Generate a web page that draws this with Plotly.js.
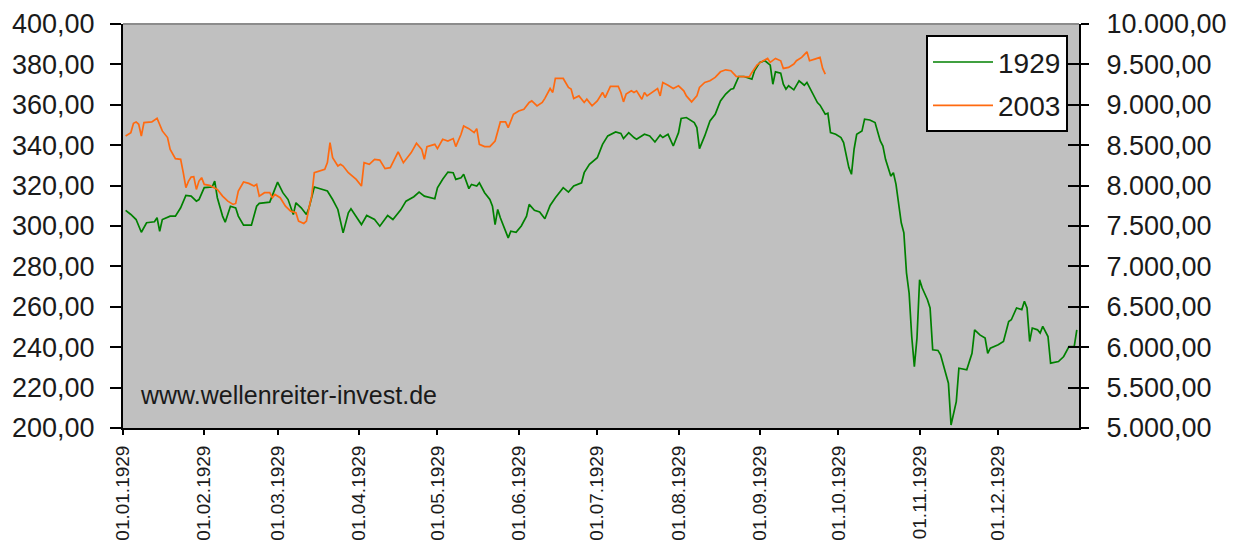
<!DOCTYPE html>
<html>
<head>
<meta charset="utf-8">
<script src="https://cdn.plot.ly/plotly-3.0.1.min.js"></script>
<style>html,body{margin:0;padding:0;background:#fff;}#chart{width:1240px;height:550px;}</style>
</head>
<body>
<div id="chart"></div>
<script>
// 1929 (DJIA, left axis)
const dates1929 = ['1929-01-02','1929-01-04','1929-01-06','1929-01-08','1929-01-10','1929-01-13','1929-01-14','1929-01-15','1929-01-16','1929-01-19',
'1929-01-21','1929-01-23','1929-01-25','1929-01-27','1929-01-29','1929-01-30','1929-02-01','1929-02-04','1929-02-05','1929-02-06',
'1929-02-08','1929-02-09','1929-02-11','1929-02-13','1929-02-14','1929-02-16','1929-02-19','1929-02-21','1929-02-22','1929-02-26',
'1929-03-01','1929-03-03','1929-03-05','1929-03-06','1929-03-07','1929-03-08','1929-03-10','1929-03-12','1929-03-13','1929-03-15',
'1929-03-17','1929-03-20','1929-03-22','1929-03-24','1929-03-26','1929-03-28','1929-03-29','1929-03-31','1929-04-02','1929-04-04',
'1929-04-07','1929-04-09','1929-04-12','1929-04-14','1929-04-17','1929-04-19','1929-04-22','1929-04-24','1929-04-26','1929-04-30',
'1929-05-01','1929-05-03','1929-05-05','1929-05-07','1929-05-08','1929-05-10','1929-05-11','1929-05-13','1929-05-14','1929-05-16',
'1929-05-17','1929-05-19','1929-05-21','1929-05-22','1929-05-23','1929-05-24','1929-05-25','1929-05-28','1929-05-29','1929-05-31',
'1929-06-02','1929-06-04','1929-06-05','1929-06-07','1929-06-09','1929-06-11','1929-06-13','1929-06-15','1929-06-18','1929-06-20',
'1929-06-22','1929-06-25','1929-06-26','1929-06-28','1929-07-01','1929-07-03','1929-07-05','1929-07-08','1929-07-10','1929-07-11',
'1929-07-13','1929-07-15','1929-07-16','1929-07-19','1929-07-21','1929-07-23','1929-07-25','1929-07-26','1929-07-28','1929-07-30',
'1929-08-01','1929-08-02','1929-08-04','1929-08-07','1929-08-08','1929-08-09','1929-08-11','1929-08-13','1929-08-15','1929-08-17',
'1929-08-19','1929-08-21','1929-08-22','1929-08-24','1929-08-26','1929-08-29','1929-08-30','1929-09-01','1929-09-03','1929-09-05',
'1929-09-06','1929-09-07','1929-09-09','1929-09-10','1929-09-11','1929-09-12','1929-09-14','1929-09-16','1929-09-18','1929-09-19',
'1929-09-21','1929-09-23','1929-09-24','1929-09-26','1929-09-27','1929-09-28','1929-09-30','1929-10-02','1929-10-03','1929-10-05',
'1929-10-06','1929-10-07','1929-10-08','1929-10-10','1929-10-11','1929-10-13','1929-10-15','1929-10-17','1929-10-18','1929-10-19',
'1929-10-21','1929-10-22','1929-10-23','1929-10-24','1929-10-25','1929-10-26','1929-10-27','1929-10-28','1929-10-29','1929-10-30',
'1929-10-31','1929-11-01','1929-11-02','1929-11-04','1929-11-05','1929-11-06','1929-11-08','1929-11-09','1929-11-11','1929-11-12',
'1929-11-13','1929-11-15','1929-11-16','1929-11-18','1929-11-19','1929-11-21','1929-11-22','1929-11-24','1929-11-26','1929-11-27',
'1929-11-28','1929-12-01','1929-12-03','1929-12-05','1929-12-06','1929-12-08','1929-12-10','1929-12-11','1929-12-12','1929-12-13',
'1929-12-14','1929-12-16','1929-12-17','1929-12-18','1929-12-20','1929-12-21','1929-12-24','1929-12-26','1929-12-28','1929-12-30',
'1929-12-31'];
const values1929 = [307.7,305.7,303.2,296.9,301.6,302.1,304.1,297.4,303.2,304.9,
304.9,309.0,315.1,314.8,312.3,313.1,319.0,319.3,322.2,314.0,
304.9,301.9,309.8,309.0,304.9,300.4,300.4,309.8,311.2,311.8,
321.7,316.5,313.1,309.0,305.7,311.5,309.0,305.7,309.0,319.3,
318.4,317.3,313.1,308.2,296.6,306.5,308.5,304.9,300.7,305.2,
303.2,299.9,305.2,303.2,308.0,312.3,314.5,316.8,314.8,313.5,
318.9,323.1,326.7,326.4,323.1,323.9,325.6,318.5,320.6,319.8,
321.4,316.5,313.1,309.8,300.7,308.2,304.1,294.1,297.4,296.9,
300.0,304.9,310.7,307.8,307.0,303.6,310.2,314.0,319.0,316.8,
319.8,321.4,326.4,330.5,333.8,340.4,344.6,346.6,345.8,343.3,
346.2,343.8,342.9,345.4,344.6,341.6,345.0,343.8,345.4,339.6,
346.2,353.2,353.7,351.2,348.7,338.3,344.6,352.0,355.3,361.9,
365.3,367.7,368.1,374.0,374.0,372.7,376.8,381.0,381.8,379.6,
370.2,376.3,375.7,370.2,367.7,369.4,367.4,371.9,369.7,371.1,
366.1,361.1,359.8,355.3,355.8,346.2,345.4,343.8,341.3,328.9,
325.6,338.0,345.4,347.0,352.9,352.5,351.2,342.1,339.6,333.0,
324.7,326.4,320.6,310.7,301.6,296.6,276.8,266.8,245.3,230.4,
244.5,273.4,269.3,263.5,259.4,238.7,238.4,236.2,226.3,222.2,
201.5,213.0,229.6,229.1,228.8,237.0,248.6,246.1,244.5,237.0,
239.5,241.2,242.8,252.7,253.6,259.4,258.6,262.7,259.4,242.8,
249.5,248.6,247.0,250.3,245.3,232.1,232.9,235.4,240.3,240.3,
248.6];

// 2003 (right axis), drawn on the same calendar positions
const dates2003 = ['1929-01-02','1929-01-04','1929-01-05','1929-01-06','1929-01-07','1929-01-08','1929-01-09','1929-01-12','1929-01-14','1929-01-16',
'1929-01-18','1929-01-19','1929-01-21','1929-01-23','1929-01-24','1929-01-25','1929-01-26','1929-01-27','1929-01-28','1929-01-29',
'1929-01-30','1929-01-31','1929-02-01','1929-02-03','1929-02-06','1929-02-08','1929-02-10','1929-02-12','1929-02-13','1929-02-14',
'1929-02-16','1929-02-18','1929-02-20','1929-02-21','1929-02-22','1929-02-24','1929-02-26','1929-02-27','1929-02-28','1929-03-02',
'1929-03-04','1929-03-06','1929-03-08','1929-03-09','1929-03-11','1929-03-12','1929-03-13','1929-03-14','1929-03-15','1929-03-17',
'1929-03-19','1929-03-20','1929-03-21','1929-03-22','1929-03-24','1929-03-25','1929-03-26','1929-03-28','1929-03-31','1929-04-02',
'1929-04-03','1929-04-05','1929-04-07','1929-04-09','1929-04-11','1929-04-13','1929-04-15','1929-04-16','1929-04-18','1929-04-19',
'1929-04-21','1929-04-23','1929-04-25','1929-04-26','1929-04-27','1929-04-30','1929-05-01','1929-05-03','1929-05-05','1929-05-07',
'1929-05-08','1929-05-10','1929-05-11','1929-05-13','1929-05-15','1929-05-16','1929-05-17','1929-05-19','1929-05-21','1929-05-23',
'1929-05-24','1929-05-25','1929-05-27','1929-05-28','1929-05-30','1929-06-01','1929-06-03','1929-06-05','1929-06-06','1929-06-08',
'1929-06-10','1929-06-11','1929-06-13','1929-06-14','1929-06-15','1929-06-18','1929-06-20','1929-06-21','1929-06-22','1929-06-24',
'1929-06-26','1929-06-27','1929-06-29','1929-07-01','1929-07-03','1929-07-04','1929-07-06','1929-07-09','1929-07-10','1929-07-11',
'1929-07-12','1929-07-14','1929-07-15','1929-07-16','1929-07-18','1929-07-19','1929-07-20','1929-07-22','1929-07-24','1929-07-25',
'1929-07-26','1929-07-28','1929-07-30','1929-08-01','1929-08-03','1929-08-04','1929-08-06','1929-08-08','1929-08-09','1929-08-11',
'1929-08-13','1929-08-15','1929-08-17','1929-08-19','1929-08-21','1929-08-23','1929-08-25','1929-08-28','1929-08-29','1929-08-31',
'1929-09-02','1929-09-04','1929-09-05','1929-09-07','1929-09-09','1929-09-10','1929-09-12','1929-09-14','1929-09-15','1929-09-17',
'1929-09-19','1929-09-20','1929-09-22','1929-09-24','1929-09-25','1929-09-26'];
const values2003 = [8614,8656,8772,8788,8759,8614,8780,8788,8834,8677,
8594,8449,8333,8325,8160,7974,8056,8106,8111,7953,
8056,8098,8015,8003,7953,7870,7808,7767,7779,7932,
8044,8027,7994,8015,7870,7912,7912,7850,7891,7850,
7746,7684,7664,7560,7531,7560,7726,7870,8160,8180,
8201,8284,8532,8346,8242,8263,8242,8160,8077,7994,
8284,8263,8325,8316,8210,8222,8346,8416,8284,8325,
8408,8524,8449,8325,8483,8511,8458,8573,8552,8582,
8483,8635,8738,8705,8656,8705,8511,8483,8483,8552,
8677,8788,8788,8718,8883,8924,8945,9029,9048,8987,
9029,9080,9202,9153,9326,9326,9215,9194,9078,9110,
9029,9069,8987,9048,9153,9090,9227,9227,9153,9036,
9132,9173,9153,9173,9069,9153,9110,9153,9202,9110,
9277,9243,9202,9235,9173,9110,9036,9110,9215,9277,
9297,9339,9408,9433,9421,9351,9350,9345,9401,9494,
9540,9574,9525,9574,9545,9450,9463,9504,9545,9587,
9656,9545,9566,9587,9450,9380];

const seriesNames = ['1929', '2003'];
const watermark = 'www.wellenreiter-invest.de';

const FONT = '"Liberation Sans", Arial, sans-serif';
const TXT = '#1a1a1a';

const traces = [
  {x: dates1929, y: values1929, name: seriesNames[0], type: 'scatter', mode: 'lines',
   line: {color: '#008000', width: 1.7}, yaxis: 'y', legendgroup: 'a'},
  {x: dates2003, y: values2003, name: seriesNames[1], type: 'scatter', mode: 'lines',
   line: {color: '#FF6A10', width: 1.7}, yaxis: 'y2', legendgroup: 'b'},
  {x: [null], y: [null], yaxis: 'y3', showlegend: false, hoverinfo: 'skip', mode: 'lines'}
];

const layout = {
  width: 1240, height: 550,
  margin: {l: 123, r: 161, t: 24, b: 122, pad: 0},
  paper_bgcolor: '#ffffff',
  plot_bgcolor: '#c0c0c0',
  separators: ',.',
  font: {family: FONT, color: TXT, size: 27},
  showlegend: true,
  legend: {
    x: 0.9885, xanchor: 'right', y: 0.972, yanchor: 'top',
    bgcolor: '#ffffff', bordercolor: '#000000', borderwidth: 2,
    font: {family: FONT, size: 28, color: TXT},
    tracegrouporder: 'normal', tracegroupgap: 4, itemwidth: 60
  },
  xaxis: {
    type: 'date', range: ['1929-01-01', '1929-12-31 20:00'],
    tick0: '1929-01-01', dtick: 'M1', tickformat: '%d.%m.%Y',
    tickangle: -90, ticks: 'outside', ticklen: 5, tickwidth: 2, tickcolor: '#000',
    ticklabelstandoff: 3,
    showgrid: false, zeroline: false,
    showline: true, linecolor: '#000', linewidth: 2,
    tickfont: {family: FONT, size: 19, color: TXT}, automargin: false
  },
  yaxis: {
    range: [200, 400], dtick: 20, tickformat: '.2f',
    ticks: 'outside', ticklen: 11, tickwidth: 2, tickcolor: '#000',
    ticklabelstandoff: 10,
    showgrid: false, zeroline: false,
    showline: true, linecolor: '#000', linewidth: 2,
    tickfont: {family: FONT, size: 27, color: TXT}, automargin: false
  },
  yaxis2: {
    overlaying: 'y', side: 'right', range: [5000, 10000], dtick: 500, tickformat: ',.2f',
    ticks: 'outside', ticklen: 8, tickwidth: 2, tickcolor: '#000',
    ticklabelstandoff: 12,
    showgrid: false, zeroline: false,
    showline: true, linecolor: '#000', linewidth: 2,
    tickfont: {family: FONT, size: 27, color: TXT}, automargin: false
  },
  yaxis3: {
    overlaying: 'y', side: 'right', range: [5000, 10000], dtick: 500,
    ticks: 'inside', ticklen: 11, tickwidth: 2, tickcolor: '#000',
    showticklabels: false, showgrid: false, zeroline: false, showline: false
  },
  shapes: [
    {type: 'line', xref: 'paper', yref: 'paper', x0: 0, x1: 1, y0: 1, y1: 1,
     line: {color: '#8c8c8c', width: 2}}
  ],
  annotations: [
    {text: watermark, xref: 'paper', yref: 'paper', x: 0.016, y: 0.082,
     xanchor: 'left', yanchor: 'middle', showarrow: false,
     font: {family: FONT, size: 25, color: TXT}}
  ]
};

Plotly.newPlot('chart', traces, layout, {displayModeBar: false, staticPlot: true});
</script>
</body>
</html>
